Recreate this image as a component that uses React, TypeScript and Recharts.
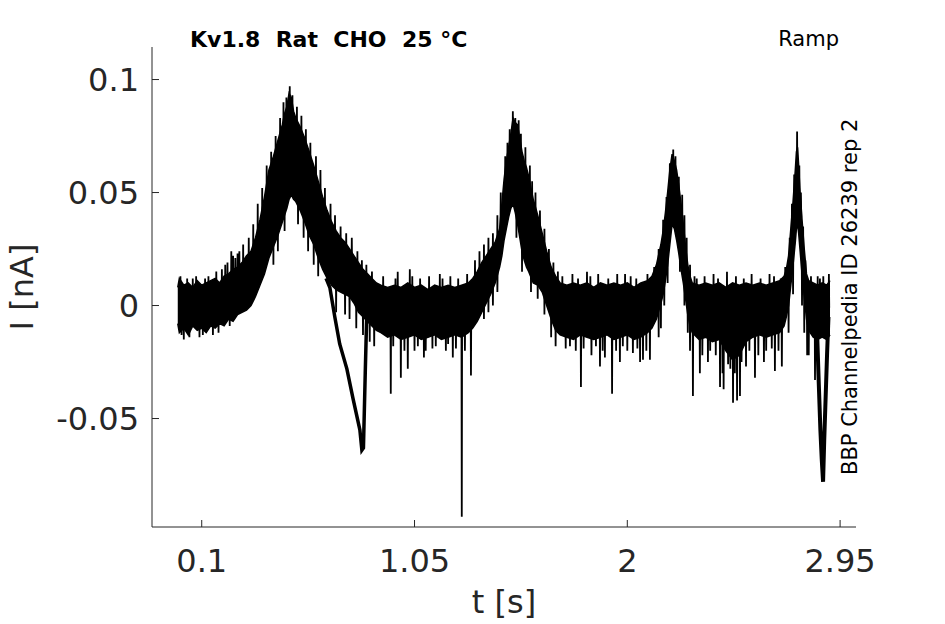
// Kv1.8 ramp-protocol current trace (BBP Channelpedia style)
import { ComposedChart, Area, Line, XAxis, YAxis } from 'recharts';

// noisy band of the trace: time [s], lower / upper edge [nA]
const bandT = [
  -0.007, 0.0, 0.02, 0.04, 0.06, 0.08, 0.1, 0.12, 0.14, 0.16, 0.18, 0.2, 0.22, 0.24, 0.26, 0.28,
  0.3, 0.32, 0.34, 0.36, 0.38, 0.4, 0.42, 0.44, 0.46, 0.47, 0.48, 0.49, 0.5, 0.51, 0.52, 0.54,
  0.56, 0.58, 0.6, 0.62, 0.64, 0.66, 0.68, 0.7, 0.72, 0.74, 0.76, 0.78, 0.8, 0.82, 0.84, 0.86,
  0.88, 0.9, 0.93, 0.96, 0.99, 1.02, 1.05, 1.08, 1.11, 1.14, 1.17, 1.2, 1.23, 1.26, 1.29, 1.31,
  1.33, 1.35, 1.37, 1.39, 1.41, 1.43, 1.44, 1.45, 1.46, 1.47, 1.48, 1.49, 1.5, 1.51, 1.52, 1.53,
  1.54, 1.55, 1.56, 1.58, 1.6, 1.62, 1.64, 1.66, 1.68, 1.7, 1.73, 1.76, 1.79, 1.82, 1.85, 1.88,
  1.91, 1.94, 1.97, 2.0, 2.03, 2.06, 2.09, 2.11, 2.13, 2.15, 2.16, 2.17, 2.18, 2.19, 2.2, 2.21,
  2.22, 2.23, 2.24, 2.25, 2.26, 2.27, 2.28, 2.29, 2.32, 2.35, 2.38, 2.41, 2.44, 2.47, 2.5, 2.53,
  2.56, 2.59, 2.62, 2.65, 2.68, 2.7, 2.71, 2.72, 2.73, 2.74, 2.75, 2.755, 2.76, 2.765, 2.77, 2.78,
  2.79, 2.8, 2.81, 2.83, 2.85, 2.87, 2.89, 2.905,
];
const bandLo = [
  -0.008, -0.012, -0.01, -0.013, -0.009, -0.011, -0.01, -0.012, -0.009, -0.01, -0.008, -0.009, -0.006, -0.007, -0.004, -0.003,
  -0.002, 0.0, 0.004, 0.009, 0.014, 0.021, 0.026, 0.031, 0.037, 0.04, 0.043, 0.047, 0.049, 0.047, 0.046, 0.042,
  0.037, 0.031, 0.027, 0.021, 0.016, 0.012, 0.009, 0.007, 0.006, 0.005, 0.004, 0.001, -0.003, -0.005, -0.007, -0.009,
  -0.011, -0.012, -0.014, -0.013, -0.015, -0.014, -0.013, -0.015, -0.014, -0.013, -0.015, -0.014, -0.013, -0.014, -0.012, -0.01,
  -0.007, -0.003, 0.001, 0.005, 0.01, 0.017, 0.022, 0.029, 0.034, 0.039, 0.043, 0.045, 0.041, 0.036, 0.03, 0.024,
  0.02, 0.017, 0.015, 0.01, 0.009, 0.006, 0.0, -0.006, -0.011, -0.013, -0.014, -0.015, -0.013, -0.014, -0.015, -0.014,
  -0.013, -0.015, -0.014, -0.013, -0.015, -0.014, -0.012, -0.01, -0.006, 0.001, 0.005, 0.011, 0.018, 0.027, 0.036, 0.034,
  0.029, 0.023, 0.016, 0.01, 0.003, -0.004, -0.009, -0.012, -0.015, -0.014, -0.016, -0.015, -0.02, -0.024, -0.022, -0.016,
  -0.014, -0.013, -0.014, -0.013, -0.012, -0.009, -0.005, 0.0, 0.009, 0.018, 0.028, 0.034, 0.036, 0.032, 0.026, 0.014,
  0.004, -0.006, -0.011, -0.014, -0.015, -0.014, -0.015, -0.013,
];
const bandHi = [
  0.008, 0.012, 0.009, 0.01, 0.008, 0.011, 0.009, 0.01, 0.011, 0.012, 0.01, 0.013, 0.014, 0.016, 0.017, 0.019,
  0.022, 0.024, 0.03, 0.038, 0.048, 0.06, 0.066, 0.073, 0.08, 0.085, 0.088, 0.094, 0.092, 0.086, 0.083, 0.079,
  0.074, 0.068, 0.062, 0.055, 0.048, 0.042, 0.037, 0.033, 0.03, 0.028, 0.025, 0.022, 0.019, 0.016, 0.014, 0.012,
  0.01, 0.009, 0.008, 0.009, 0.008, 0.01, 0.008, 0.009, 0.007, 0.009, 0.008, 0.009, 0.008, 0.009, 0.01, 0.012,
  0.015, 0.019, 0.022, 0.025, 0.028, 0.034, 0.045, 0.056, 0.064, 0.07, 0.076, 0.083, 0.081, 0.08, 0.074, 0.068,
  0.064, 0.061, 0.057, 0.047, 0.04, 0.032, 0.024, 0.017, 0.013, 0.01, 0.009, 0.01, 0.009, 0.01, 0.008, 0.01,
  0.009, 0.01, 0.009, 0.01, 0.008, 0.01, 0.011, 0.013, 0.018, 0.027, 0.033, 0.041, 0.05, 0.06, 0.067, 0.064,
  0.06, 0.053, 0.045, 0.036, 0.026, 0.018, 0.013, 0.01, 0.009, 0.01, 0.009, 0.01, 0.008, 0.01, 0.009, 0.01,
  0.009, 0.01, 0.009, 0.01, 0.011, 0.013, 0.016, 0.022, 0.034, 0.046, 0.06, 0.068, 0.07, 0.062, 0.052, 0.038,
  0.025, 0.014, 0.011, 0.01, 0.009, 0.01, 0.009, 0.011,
];

// single-sample spikes sticking out of the band (time [s], tip [nA])
const spikeT = [
  0.005, 0.01, 0.02, 0.035, 0.045, 0.06, 0.075, 0.09, 0.105, 0.115, 0.13, 0.15, 0.165, 0.175, 0.19, 0.205, 0.215, 0.225, 0.232, 0.24, 0.25, 0.26, 0.268, 0.285,
  0.31, 0.33, 0.35, 0.37, 0.39, 0.41, 0.43, 0.45, 0.465, 0.478, 0.493, 0.505, 0.525, 0.545, 0.565, 0.585, 0.61, 0.63, 0.65, 0.675, 0.695, 0.72, 0.745, 0.77, 0.795, 0.815, 0.835, 0.86,
  0.42, 0.44, 0.47, 0.53, 0.555, 0.575, 0.6, 0.62, 0.7, 0.74, 0.76, 0.79, 0.82, 0.85, 0.87,
  0.91, 0.944, 0.955, 0.965, 0.975, 0.989, 1.005, 1.02, 1.029, 1.04, 1.05, 1.065, 1.075, 1.092, 1.1, 1.115, 1.13, 1.145, 1.163, 1.175, 1.19, 1.2, 1.21, 1.221, 1.235, 1.245, 1.261, 1.275, 1.285, 1.302,
  1.32, 1.34, 1.36, 1.38, 1.4, 1.42, 1.435, 1.455, 1.465, 1.475, 1.489, 1.5, 1.515, 1.525, 1.545, 1.565, 1.575, 1.59, 1.61, 1.63, 1.65, 1.67, 1.69,
  1.36, 1.38, 1.4, 1.42, 1.505, 1.53, 1.57, 1.6, 1.63, 1.66, 1.68,
  1.71, 1.725, 1.744, 1.755, 1.77, 1.78, 1.793, 1.805, 1.82, 1.835, 1.84, 1.86, 1.87, 1.878, 1.89, 1.9, 1.915, 1.932, 1.95, 1.955, 1.967, 1.98, 1.99, 2.0, 2.015, 2.025, 2.04, 2.045, 2.057, 2.07, 2.085, 2.09, 2.101,
  2.12, 2.14, 2.16, 2.175, 2.19, 2.205, 2.215, 2.23, 2.245, 2.255, 2.265, 2.28, 2.3,
  2.14, 2.15, 2.165, 2.18, 2.235, 2.255, 2.27, 2.28,
  2.293, 2.31, 2.324, 2.335, 2.345, 2.36, 2.37, 2.385, 2.395, 2.405, 2.414, 2.425, 2.43, 2.445, 2.45, 2.46, 2.472, 2.48, 2.485, 2.49, 2.503, 2.51, 2.52, 2.53, 2.545, 2.555, 2.57, 2.585, 2.595, 2.61, 2.62, 2.635, 2.645, 2.655, 2.659, 2.675, 2.685, 2.69,
  2.705, 2.725, 2.735, 2.745, 2.758, 2.768, 2.775, 2.785, 2.795, 2.72, 2.74, 2.78, 2.79, 2.803, 2.81,
  2.82, 2.838, 2.85, 2.86, 2.875, 2.9,
];
const spikeI = [
  0.013, -0.013, -0.015, 0.012, -0.014, 0.012, 0.013, -0.014, -0.013, 0.012, 0.013, -0.013, 0.015, -0.012, 0.016, 0.018, 0.019, -0.009, 0.024, 0.022, 0.021, 0.023, 0.024, 0.027,
  0.03, 0.036, 0.045, 0.052, 0.062, 0.068, 0.075, 0.083, 0.09, 0.092, 0.097, 0.093, 0.088, 0.084, 0.078, 0.072, 0.066, 0.06, 0.052, 0.045, 0.04, 0.035, 0.032, 0.03, 0.024, 0.02, 0.018, 0.015,
  0.018, 0.024, 0.033, 0.036, 0.03, 0.024, 0.018, 0.013, -0.003, -0.004, -0.006, -0.01, -0.013, -0.016, -0.018,
  0.013, -0.039, -0.018, 0.012, 0.015, -0.032, -0.02, -0.028, 0.016, 0.013, -0.02, -0.018, 0.012, -0.023, -0.02, 0.013, -0.019, -0.018, 0.014, 0.012, -0.02, -0.017, 0.013, -0.023, -0.019, 0.012, -0.0935, -0.02, 0.014, -0.031,
  0.02, 0.024, 0.027, 0.03, 0.032, 0.04, 0.05, 0.066, 0.072, 0.078, 0.086, 0.083, 0.082, 0.076, 0.07, 0.062, 0.055, 0.05, 0.042, 0.034, 0.025, 0.019, 0.015,
  -0.006, -0.003, 0.0, 0.006, 0.03, 0.015, 0.006, 0.003, -0.004, -0.014, -0.018,
  0.013, -0.019, -0.018, 0.014, -0.02, 0.012, -0.036, -0.019, 0.015, 0.013, -0.022, -0.018, 0.014, -0.027, -0.02, -0.023, 0.012, -0.039, -0.02, 0.014, -0.025, -0.018, 0.014, -0.02, 0.013, -0.021, 0.012, -0.019, -0.025, -0.024, -0.02, 0.014, -0.024,
  0.017, 0.025, 0.038, 0.048, 0.063, 0.069, 0.066, 0.057, 0.049, 0.04, 0.03, 0.018, 0.013,
  -0.014, -0.01, 0.0, 0.01, 0.015, 0.0, -0.012, -0.02,
  -0.04, 0.012, -0.03, -0.022, 0.013, -0.025, -0.02, 0.014, -0.022, 0.012, -0.036, -0.03, -0.037, 0.015, -0.026, -0.028, -0.043, -0.03, 0.013, -0.042, -0.04, -0.025, 0.012, -0.027, -0.02, 0.014, -0.032, -0.022, 0.012, -0.025, -0.02, 0.014, -0.019, 0.013, -0.029, -0.02, 0.012, -0.027,
  0.017, 0.03, 0.045, 0.058, 0.077, 0.062, 0.05, 0.035, 0.02, -0.012, 0.005, 0.0, -0.012, -0.022, -0.022,
  0.013, -0.033, 0.013, 0.012, 0.013, 0.014,
];

// sweep that falls away after the first hump
const loopT = [0.655, 0.672, 0.694, 0.716, 0.748, 0.775, 0.806, 0.815, 0.822, 0.83, 0.837];
const loopI = [0.012, 0.008, -0.005, -0.017, -0.028, -0.041, -0.055, -0.064, -0.063, -0.03, -0.003];

// deep dip at the end of the record
const dipT = [2.845, 2.855, 2.862, 2.868, 2.874, 2.879, 2.884, 2.892, 2.898];
const dipI = [-0.005, -0.035, -0.055, -0.068, -0.078, -0.06, -0.045, -0.021, -0.005];

const xTicks = [0.1, 1.05, 2, 2.95];
const yTicks = [-0.05, 0, 0.05, 0.1];

const bandData = bandT.map((t, i) => ({ t, range: [bandLo[i], bandHi[i]] }));

// each spike starts from the middle of the band at the nearest band sample
function bandMid(t: number) {
  let k = 0;
  bandT.forEach((bt, i) => {
    if (Math.abs(bt - t) < Math.abs(bandT[k] - t)) k = i;
  });
  return (bandLo[k] + bandHi[k]) / 2;
}
const spikeData = spikeT.flatMap((t, i) => {
  const base = bandMid(t);
  return [
    { t: t - 0.0015, v: base },
    { t, v: spikeI[i] },
    { t: t + 0.0015, v: base },
    { t: t + 0.002, v: null },
  ];
});
const loopData = loopT.map((t, i) => ({ t, v: loopI[i] }));
const dipData = dipT.map((t, i) => ({ t, v: dipI[i] }));

const FONT = '"DejaVu Sans", sans-serif';
const AXIS = '#262626';

export default function App() {
  return (
    <div style={{ position: 'absolute', left: 0, top: 0, width: 945, height: 624, background: '#fff' }}>
      <ComposedChart width={945} height={624} margin={{ top: 47, right: 89, bottom: 0, left: 0 }}>
        <XAxis
          type="number"
          dataKey="t"
          domain={[-0.122, 3.021]}
          allowDataOverflow
          ticks={xTicks}
          interval={0}
          height={97}
          tickSize={-7}
          tickMargin={29}
          tickFormatter={(v: number) => String(v)}
          tick={{ fill: AXIS, fontSize: 32, fontFamily: FONT }}
          stroke={AXIS}
        />
        <YAxis
          type="number"
          domain={[-0.098, 0.1144]}
          allowDataOverflow
          ticks={yTicks}
          interval={0}
          width={152}
          tickSize={-7}
          tickMargin={20}
          tickFormatter={(v: number) => String(v)}
          tick={{ fill: AXIS, fontSize: 32, fontFamily: FONT }}
          stroke={AXIS}
        />
        <Area
          data={bandData}
          dataKey="range"
          type="linear"
          stroke="#000"
          strokeWidth={1.5}
          fill="#000"
          fillOpacity={1}
          dot={false}
          activeDot={false}
          isAnimationActive={false}
        />
        <Line
          data={spikeData}
          dataKey="v"
          type="linear"
          stroke="#000"
          strokeWidth={1.8}
          dot={false}
          activeDot={false}
          connectNulls={false}
          isAnimationActive={false}
        />
        <Line
          data={loopData}
          dataKey="v"
          type="linear"
          stroke="#000"
          strokeWidth={3.5}
          dot={false}
          activeDot={false}
          isAnimationActive={false}
        />
        <Line
          data={dipData}
          dataKey="v"
          type="linear"
          stroke="#000"
          strokeWidth={4}
          dot={false}
          activeDot={false}
          isAnimationActive={false}
        />
      </ComposedChart>
      <svg
        width={945}
        height={624}
        style={{ position: 'absolute', left: 0, top: 0, pointerEvents: 'none' }}
        fontFamily={FONT}
      >
        <text x={190} y={46.5} fontSize={22} fontWeight="bold" fill="#000" xmlSpace="preserve" style={{ whiteSpace: 'pre' }}>
          {'Kv1.8  Rat  CHO  25 °C'}
        </text>
        <text x={839} y={46} fontSize={21} fill="#000" textAnchor="end">
          Ramp
        </text>
        <text x={857} y={475} fontSize={21} fill="#000" transform="rotate(-90 857 475)">
          BBP Channelpedia ID 26239 rep 2
        </text>
        <text x={33} y={287} fontSize={32} fill={AXIS} textAnchor="middle" transform="rotate(-90 33 287)">
          I [nA]
        </text>
        <text x={504} y={613} fontSize={32} fill={AXIS} textAnchor="middle">
          t [s]
        </text>
      </svg>
    </div>
  );
}
